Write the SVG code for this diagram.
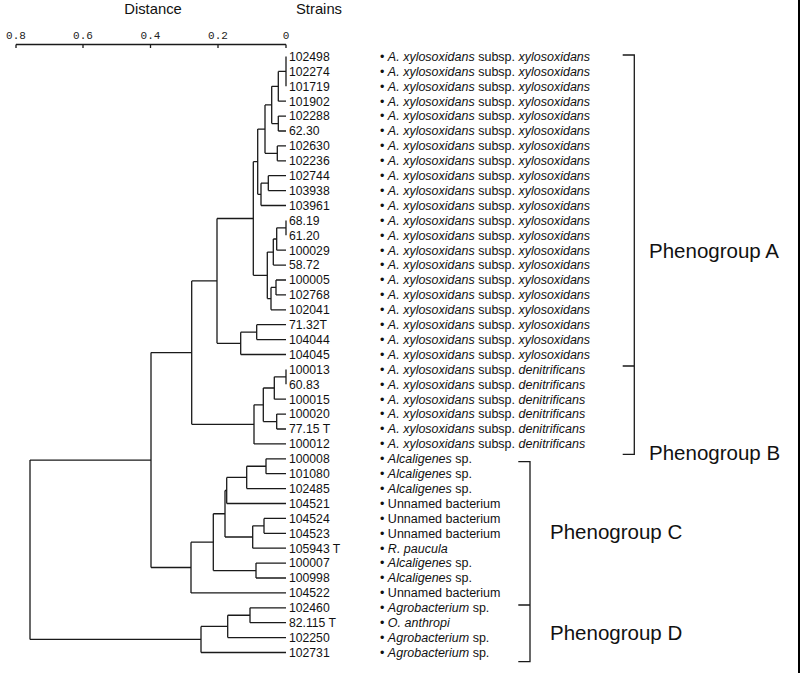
<svg xmlns="http://www.w3.org/2000/svg" width="800" height="673" viewBox="0 0 800 673">
<style>
.l{fill:none;stroke:#1a1a1a;stroke-width:1.3}
.t{font-family:"Liberation Sans",Arial,sans-serif;fill:#111}
.id{font-size:12.2px}
.sp{font-size:12.5px}
.i{font-style:italic}
.pg{font-size:20.5px}
.hd{font-size:14.8px}
.ax{font-family:"Liberation Mono","Courier New",monospace;font-size:11px;fill:#222;text-anchor:middle}
</style>
<rect width="800" height="673" fill="#fff"/>
<line x1="799" y1="0" x2="799" y2="673" stroke="#000" stroke-width="2"/>
<g id="axis">
<text class="t hd" x="153" y="14" text-anchor="middle">Distance</text>
<text class="t hd" x="319" y="14" text-anchor="middle">Strains</text>
<text class="ax" x="16" y="38.5">0.8</text>
<text class="ax" x="83" y="38.5">0.6</text>
<text class="ax" x="150.5" y="38.5">0.4</text>
<text class="ax" x="218" y="38.5">0.2</text>
<text class="ax" x="286" y="38.5">0</text>
<path class="l" d="M16,44.5H286M16,44.5V48M83,44.5V48M150.5,44.5V48M218,44.5V48M286,44.5V48"/>
</g>
<g id="connectors">
<path class="l" d="M286,56.5V86.3"/>
<path class="l" d="M278.3,71.4V101.2M278.3,71.4H286M278.3,101.2H286"/>
<path class="l" d="M278.3,116.1V131M278.3,116.1H286M278.3,131H286"/>
<path class="l" d="M271.7,86.3V123.55M271.7,86.3H278.3M271.7,123.55H278.3"/>
<path class="l" d="M277.3,145.9V160.8M277.3,145.9H286M277.3,160.8H286"/>
<path class="l" d="M265,104.9V153.35M265,104.9H271.7M265,153.35H277.3"/>
<path class="l" d="M268.3,175.7V190.6M268.3,175.7H286M268.3,190.6H286"/>
<path class="l" d="M261,183.15V205.5M261,183.15H268.3M261,205.5H286"/>
<path class="l" d="M257.7,129.1V194.3M257.7,129.1H265M257.7,194.3H261"/>
<path class="l" d="M286,220.4V235.3"/>
<path class="l" d="M276.7,227.85V250.2M276.7,227.85H286M276.7,250.2H286"/>
<path class="l" d="M273.3,239V265.1M273.3,239H276.7M273.3,265.1H286"/>
<path class="l" d="M276,280V294.9M276,280H286M276,294.9H286"/>
<path class="l" d="M271,287.45V309.8M271,287.45H276M271,309.8H286"/>
<path class="l" d="M267.3,252.05V298.6M267.3,252.05H273.3M267.3,298.6H271"/>
<path class="l" d="M253.3,161.7V275.3M253.3,161.7H257.7M253.3,275.3H267.3"/>
<path class="l" d="M256.7,324.7V339.6M256.7,324.7H286M256.7,339.6H286"/>
<path class="l" d="M240.7,332.15V354.5M240.7,332.15H256.7M240.7,354.5H286"/>
<path class="l" d="M217,218.5V343.3M217,218.5H253.3M217,343.3H240.7"/>
<path class="l" d="M286,369.4V384.3"/>
<path class="l" d="M274.3,376.85V399.2M274.3,376.85H286M274.3,399.2H286"/>
<path class="l" d="M276.7,414.1V429M276.7,414.1H286M276.7,429H286"/>
<path class="l" d="M263.3,388V421.55M263.3,388H274.3M263.3,421.55H276.7"/>
<path class="l" d="M254,404.8V443.9M254,404.8H263.3M254,443.9H286"/>
<path class="l" d="M191.7,280.9V424.35M191.7,280.9H217M191.7,424.35H254"/>
<path class="l" d="M266,458.8V473.7M266,458.8H286M266,473.7H286"/>
<path class="l" d="M246.7,466.25V488.6M246.7,466.25H266M246.7,488.6H286"/>
<path class="l" d="M226.7,477.4V503.5M226.7,477.4H246.7M226.7,503.5H286"/>
<path class="l" d="M264,518.4V533.3M264,518.4H286M264,533.3H286"/>
<path class="l" d="M252.7,525.85V548.2M252.7,525.85H264M252.7,548.2H286"/>
<path class="l" d="M225,490.5V537M225,490.5H226.7M225,537H252.7"/>
<path class="l" d="M256,563.1V578M256,563.1H286M256,578H286"/>
<path class="l" d="M213.3,513.75V570.55M213.3,513.75H225M213.3,570.55H256"/>
<path class="l" d="M191,542.15V592.9M191,542.15H213.3M191,592.9H286"/>
<path class="l" d="M151,352.6V567.5M151,352.6H191.7M151,567.5H191"/>
<path class="l" d="M250,607.8V622.7M250,607.8H286M250,622.7H286"/>
<path class="l" d="M227.7,615.25V637.6M227.7,615.25H250M227.7,637.6H286"/>
<path class="l" d="M201,626.4V652.5M201,626.4H227.7M201,652.5H286"/>
<path class="l" d="M30,460.05V639.45M30,460.05H151M30,639.45H201"/>
</g>
<g id="leaves">
<g id="s102498"><text class="t id" x="289" y="60.8">102498</text><text class="t sp" x="380" y="60.8">• <tspan class="i">A. xylosoxidans</tspan> subsp. <tspan class="i">xylosoxidans</tspan></text></g>
<g id="s102274"><text class="t id" x="289" y="75.7">102274</text><text class="t sp" x="380" y="75.7">• <tspan class="i">A. xylosoxidans</tspan> subsp. <tspan class="i">xylosoxidans</tspan></text></g>
<g id="s101719"><text class="t id" x="289" y="90.6">101719</text><text class="t sp" x="380" y="90.6">• <tspan class="i">A. xylosoxidans</tspan> subsp. <tspan class="i">xylosoxidans</tspan></text></g>
<g id="s101902"><text class="t id" x="289" y="105.5">101902</text><text class="t sp" x="380" y="105.5">• <tspan class="i">A. xylosoxidans</tspan> subsp. <tspan class="i">xylosoxidans</tspan></text></g>
<g id="s102288"><text class="t id" x="289" y="120.4">102288</text><text class="t sp" x="380" y="120.4">• <tspan class="i">A. xylosoxidans</tspan> subsp. <tspan class="i">xylosoxidans</tspan></text></g>
<g id="s62_30"><text class="t id" x="289" y="135.3">62.30</text><text class="t sp" x="380" y="135.3">• <tspan class="i">A. xylosoxidans</tspan> subsp. <tspan class="i">xylosoxidans</tspan></text></g>
<g id="s102630"><text class="t id" x="289" y="150.2">102630</text><text class="t sp" x="380" y="150.2">• <tspan class="i">A. xylosoxidans</tspan> subsp. <tspan class="i">xylosoxidans</tspan></text></g>
<g id="s102236"><text class="t id" x="289" y="165.1">102236</text><text class="t sp" x="380" y="165.1">• <tspan class="i">A. xylosoxidans</tspan> subsp. <tspan class="i">xylosoxidans</tspan></text></g>
<g id="s102744"><text class="t id" x="289" y="180">102744</text><text class="t sp" x="380" y="180">• <tspan class="i">A. xylosoxidans</tspan> subsp. <tspan class="i">xylosoxidans</tspan></text></g>
<g id="s103938"><text class="t id" x="289" y="194.9">103938</text><text class="t sp" x="380" y="194.9">• <tspan class="i">A. xylosoxidans</tspan> subsp. <tspan class="i">xylosoxidans</tspan></text></g>
<g id="s103961"><text class="t id" x="289" y="209.8">103961</text><text class="t sp" x="380" y="209.8">• <tspan class="i">A. xylosoxidans</tspan> subsp. <tspan class="i">xylosoxidans</tspan></text></g>
<g id="s68_19"><text class="t id" x="289" y="224.7">68.19</text><text class="t sp" x="380" y="224.7">• <tspan class="i">A. xylosoxidans</tspan> subsp. <tspan class="i">xylosoxidans</tspan></text></g>
<g id="s61_20"><text class="t id" x="289" y="239.6">61.20</text><text class="t sp" x="380" y="239.6">• <tspan class="i">A. xylosoxidans</tspan> subsp. <tspan class="i">xylosoxidans</tspan></text></g>
<g id="s100029"><text class="t id" x="289" y="254.5">100029</text><text class="t sp" x="380" y="254.5">• <tspan class="i">A. xylosoxidans</tspan> subsp. <tspan class="i">xylosoxidans</tspan></text></g>
<g id="s58_72"><text class="t id" x="289" y="269.4">58.72</text><text class="t sp" x="380" y="269.4">• <tspan class="i">A. xylosoxidans</tspan> subsp. <tspan class="i">xylosoxidans</tspan></text></g>
<g id="s100005"><text class="t id" x="289" y="284.3">100005</text><text class="t sp" x="380" y="284.3">• <tspan class="i">A. xylosoxidans</tspan> subsp. <tspan class="i">xylosoxidans</tspan></text></g>
<g id="s102768"><text class="t id" x="289" y="299.2">102768</text><text class="t sp" x="380" y="299.2">• <tspan class="i">A. xylosoxidans</tspan> subsp. <tspan class="i">xylosoxidans</tspan></text></g>
<g id="s102041"><text class="t id" x="289" y="314.1">102041</text><text class="t sp" x="380" y="314.1">• <tspan class="i">A. xylosoxidans</tspan> subsp. <tspan class="i">xylosoxidans</tspan></text></g>
<g id="s71_32T"><text class="t id" x="289" y="329">71.32T</text><text class="t sp" x="380" y="329">• <tspan class="i">A. xylosoxidans</tspan> subsp. <tspan class="i">xylosoxidans</tspan></text></g>
<g id="s104044"><text class="t id" x="289" y="343.9">104044</text><text class="t sp" x="380" y="343.9">• <tspan class="i">A. xylosoxidans</tspan> subsp. <tspan class="i">xylosoxidans</tspan></text></g>
<g id="s104045"><text class="t id" x="289" y="358.8">104045</text><text class="t sp" x="380" y="358.8">• <tspan class="i">A. xylosoxidans</tspan> subsp. <tspan class="i">xylosoxidans</tspan></text></g>
<g id="s100013"><text class="t id" x="289" y="373.7">100013</text><text class="t sp" x="380" y="373.7">• <tspan class="i">A. xylosoxidans</tspan> subsp. <tspan class="i">denitrificans</tspan></text></g>
<g id="s60_83"><text class="t id" x="289" y="388.6">60.83</text><text class="t sp" x="380" y="388.6">• <tspan class="i">A. xylosoxidans</tspan> subsp. <tspan class="i">denitrificans</tspan></text></g>
<g id="s100015"><text class="t id" x="289" y="403.5">100015</text><text class="t sp" x="380" y="403.5">• <tspan class="i">A. xylosoxidans</tspan> subsp. <tspan class="i">denitrificans</tspan></text></g>
<g id="s100020"><text class="t id" x="289" y="418.4">100020</text><text class="t sp" x="380" y="418.4">• <tspan class="i">A. xylosoxidans</tspan> subsp. <tspan class="i">denitrificans</tspan></text></g>
<g id="s77_15T"><text class="t id" x="289" y="433.3">77.15 T</text><text class="t sp" x="380" y="433.3">• <tspan class="i">A. xylosoxidans</tspan> subsp. <tspan class="i">denitrificans</tspan></text></g>
<g id="s100012"><text class="t id" x="289" y="448.2">100012</text><text class="t sp" x="380" y="448.2">• <tspan class="i">A. xylosoxidans</tspan> subsp. <tspan class="i">denitrificans</tspan></text></g>
<g id="s100008"><text class="t id" x="289" y="463.1">100008</text><text class="t sp" x="380" y="463.1">• <tspan class="i">Alcaligenes</tspan> sp.</text></g>
<g id="s101080"><text class="t id" x="289" y="478">101080</text><text class="t sp" x="380" y="478">• <tspan class="i">Alcaligenes</tspan> sp.</text></g>
<g id="s102485"><text class="t id" x="289" y="492.9">102485</text><text class="t sp" x="380" y="492.9">• <tspan class="i">Alcaligenes</tspan> sp.</text></g>
<g id="s104521"><text class="t id" x="289" y="507.8">104521</text><text class="t sp" x="380" y="507.8">• Unnamed bacterium</text></g>
<g id="s104524"><text class="t id" x="289" y="522.7">104524</text><text class="t sp" x="380" y="522.7">• Unnamed bacterium</text></g>
<g id="s104523"><text class="t id" x="289" y="537.6">104523</text><text class="t sp" x="380" y="537.6">• Unnamed bacterium</text></g>
<g id="s105943T"><text class="t id" x="289" y="552.5">105943 T</text><text class="t sp" x="380" y="552.5">• <tspan class="i">R. paucula</tspan></text></g>
<g id="s100007"><text class="t id" x="289" y="567.4">100007</text><text class="t sp" x="380" y="567.4">• <tspan class="i">Alcaligenes</tspan> sp.</text></g>
<g id="s100998"><text class="t id" x="289" y="582.3">100998</text><text class="t sp" x="380" y="582.3">• <tspan class="i">Alcaligenes</tspan> sp.</text></g>
<g id="s104522"><text class="t id" x="289" y="597.2">104522</text><text class="t sp" x="380" y="597.2">• Unnamed bacterium</text></g>
<g id="s102460"><text class="t id" x="289" y="612.1">102460</text><text class="t sp" x="380" y="612.1">• <tspan class="i">Agrobacterium</tspan> sp.</text></g>
<g id="s82_115T"><text class="t id" x="289" y="627">82.115 T</text><text class="t sp" x="380" y="627">• <tspan class="i">O. anthropi</tspan></text></g>
<g id="s102250"><text class="t id" x="289" y="641.9">102250</text><text class="t sp" x="380" y="641.9">• <tspan class="i">Agrobacterium</tspan> sp.</text></g>
<g id="s102731"><text class="t id" x="289" y="656.8">102731</text><text class="t sp" x="380" y="656.8">• <tspan class="i">Agrobacterium</tspan> sp.</text></g>
</g>
<g id="phenogroups">
<g id="pgA"><path class="l" d="M622.7,55H634.3V454.3H622.7M622.7,366H634.3"/><text class="t pg" x="649" y="257.5">Phenogroup A</text></g>
<g id="pgB"><text class="t pg" x="649" y="459.5">Phenogroup B</text></g>
<g id="pgC"><path class="l" d="M518.3,461.7H530V661.7H518.3M518.3,605H530"/><text class="t pg" x="550" y="538.5">Phenogroup C</text></g>
<g id="pgD"><text class="t pg" x="550" y="639.5">Phenogroup D</text></g>
</g>
</svg>
